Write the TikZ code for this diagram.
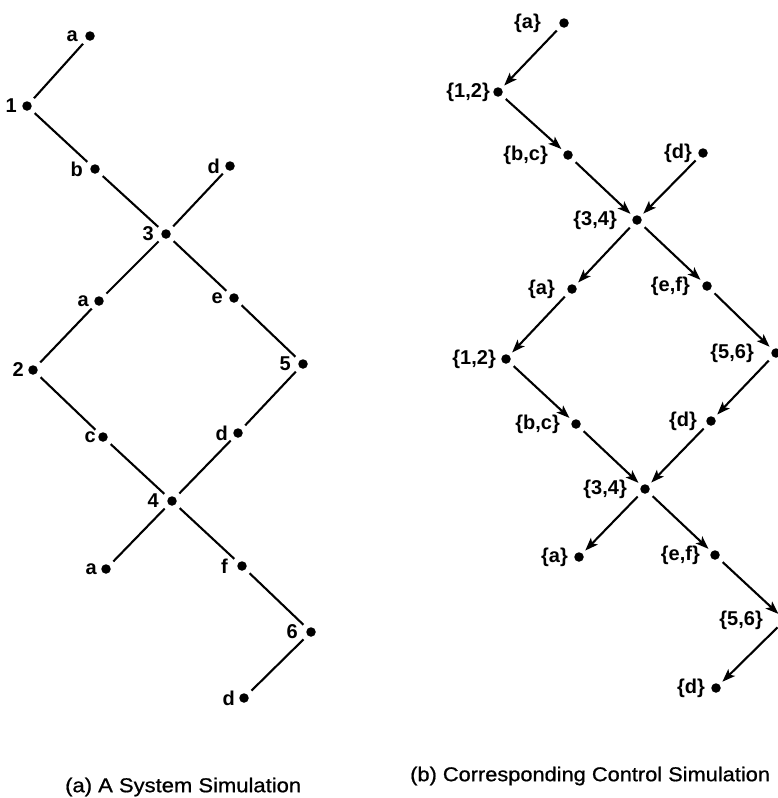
\documentclass[tikz,border=0pt]{standalone}
\usepackage{fontspec}
\usepackage{graphicx}
\setmainfont{Liberation Sans}
\newfontfamily\capfont{Liberation Sans}[FakeBold=0.8]
\usetikzlibrary{arrows.meta}
\tikzset{
  dotn/.style={circle,fill=black,inner sep=0pt,minimum size=9.5pt},
  lbl/.style={anchor=east,inner sep=0pt,font=\fontsize{20}{20}\selectfont\bfseries},
  ln/.style={line width=2.1pt,shorten <=5.5pt,shorten >=5.5pt},
  arr/.style={line width=2.1pt,shorten <=5.5pt,shorten >=4pt,-{Stealth[length=13pt,width=9.5pt,inset=3pt]}},
  captxt/.style={anchor=west,inner sep=0pt,font=\fontsize{20}{20}\capfont}
}
\newcommand\dotlbl[5]{%
  \node[dotn] (#1) at (#2,#3) {};
  \node[lbl] (#1t) at ([xshift=-#5pt]#1.center) {#4};}
\begin{document}
\begin{tikzpicture}[x=1pt,y=-1pt]
\useasboundingbox (0,0) rectangle (778,798);
% ---------- (a) ----------
\dotlbl{L1}{90}{36}{a}{12}
\dotlbl{L2}{27}{106}{1}{10}
\dotlbl{L3}{95}{169}{b}{12}
\dotlbl{L4}{230}{166}{d}{10}
\dotlbl{L5}{166}{234}{3}{12}
\dotlbl{L6}{99}{301}{a}{10}
\dotlbl{L7}{234}{298}{e}{11}
\dotlbl{L8}{33}{370}{2}{9}
\dotlbl{L9}{303}{364}{5}{12}
\dotlbl{L10}{103}{437}{c}{7}
\dotlbl{L11}{238}{433}{d}{10}
\dotlbl{L12}{172}{501}{4}{13}
\dotlbl{L13}{106}{569}{a}{9}
\dotlbl{L14}{242}{566}{f}{14}
\dotlbl{L15}{311}{632}{6}{13}
\dotlbl{L16}{244}{698}{d}{9}
\foreach \p/\q in {L1/L2,L2/L3,L3/L5,L4/L5,L5/L6,L5/L7,L6/L8,L7/L9,
                   L8/L10,L9/L11,L10/L12,L11/L12,L12/L13,L12/L14,L14/L15,L15/L16}
  \draw[ln] (\p) -- (\q);
% ---------- (b) ----------
\dotlbl{R1}{564}{23}{\{a\}}{23}
\dotlbl{R2}{498}{92}{\{1,2\}}{8}
\dotlbl{R3}{568}{155}{\{b,c\}}{20}
\dotlbl{R4}{703}{153}{\{d\}}{11}
\dotlbl{R5}{637}{220}{\{3,4\}}{20}
\dotlbl{R6}{572}{289}{\{a\}}{17}
\dotlbl{R7}{707}{286}{\{e,f\}}{17}
\dotlbl{R8}{506}{359}{\{1,2\}}{10}
\dotlbl{R9}{776}{353}{\{5,6\}}{22}
\dotlbl{R10}{576}{424}{\{b,c\}}{16}
\dotlbl{R11}{711}{421}{\{d\}}{14}
\dotlbl{R12}{645}{489}{\{3,4\}}{18}
\dotlbl{R13}{579}{557}{\{a\}}{11}
\dotlbl{R14}{715}{555}{\{e,f\}}{15}
\dotlbl{R15}{785}{620}{\{5,6\}}{22}
\dotlbl{R16}{716}{688}{\{d\}}{11}
\foreach \p/\q in {R1/R2,R2/R3,R3/R5,R4/R5,R5/R6,R5/R7,R6/R8,R7/R9,
                   R8/R10,R9/R11,R10/R12,R11/R12,R12/R13,R12/R14,R14/R15,R15/R16}
  \draw[arr] (\p) -- (\q);
% ---------- captions ----------
\node[captxt] (capa) at (65,787) {\scalebox{1.1}[1]{(a) A System Simulation}};
\node[captxt] (capb) at (410,776) {\scalebox{1.09}[1]{(b) Corresponding Control Simulation}};
\end{tikzpicture}
\end{document}
